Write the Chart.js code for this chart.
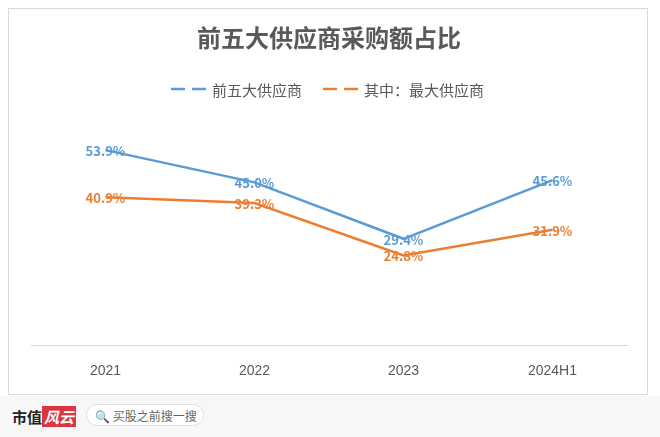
<!DOCTYPE html>
<html><head><meta charset="utf-8">
<script src="https://cdn.jsdelivr.net/npm/chart.js@4"></script>
<style>
body{margin:0;width:660px;height:437px;background:#fff;font-family:"Noto Sans CJK SC",sans-serif;position:relative;overflow:hidden}
#box{position:absolute;left:8px;top:8px;width:640px;height:387px;border:1px solid #d9d9d9;box-sizing:border-box}
#foot{position:absolute;left:0;top:396px;width:660px;height:41px;background:#f7f7f7}
#logo{position:absolute;left:12px;top:10px;font-size:15px;font-weight:bold;color:#222}
#logo span{background:#d9363e;color:#fff;padding:0 2px;font-style:italic}
#search{position:absolute;left:86px;top:8px;width:118px;height:22px;border-radius:11px;background:#fff;border:1px solid #e0e0e0;font-size:12px;color:#666;line-height:22px;padding-left:8px;box-sizing:border-box}
</style></head><body>
<div id="box"><canvas id="c" width="638" height="385"></canvas></div>
<div id="foot"><div id="logo">市值<span>风云</span></div><div id="search">🔍 买股之前搜一搜</div></div>
<script>
var categories = ["2021", "2022", "2023", "2024H1"];
var top5 = [53.9, 45.0, 29.4, 45.6];
var largest = [40.9, 39.3, 24.8, 31.9];
var seriesNames = ["前五大供应商", "其中：最大供应商"];
var blue = '#5b9bd5', orange = '#ed7d31';

var labelPlugin = {
    id: 'vals',
    afterDatasetsDraw: function(chart) {
        var ctx = chart.ctx;
        ctx.save();
        ctx.font = 'bold 13px "Noto Sans CJK SC", sans-serif';
        ctx.textAlign = 'center';
        ctx.textBaseline = 'middle';
        chart.data.datasets.forEach(function(ds, i) {
            chart.getDatasetMeta(i).data.forEach(function(pt, j) {
                ctx.fillStyle = ds.borderColor;
                ctx.fillText(ds.data[j].toFixed(1) + '%', pt.x, pt.y + 1);
            });
        });
        // legend with dashed keys
        ctx.font = '15px "Noto Sans CJK SC", sans-serif';
        ctx.textAlign = 'left';
        ctx.lineWidth = 2.5;
        ctx.setLineDash([14, 7]);
        var xs = [162, 314];
        chart.data.datasets.forEach(function(ds, i) {
            ctx.strokeStyle = ds.borderColor;
            ctx.beginPath();
            ctx.moveTo(xs[i], 80);
            ctx.lineTo(xs[i] + 35, 80);
            ctx.stroke();
            ctx.fillStyle = '#595959';
            ctx.fillText(ds.label, xs[i] + 41, 81);
        });
        ctx.restore();
    }
};

new Chart(document.getElementById('c'), {
    type: 'line',
    data: {
        labels: categories,
        datasets: [
            {label: seriesNames[0], data: top5, borderColor: blue, backgroundColor: blue, borderWidth: 2.5, pointRadius: 0, tension: 0},
            {label: seriesNames[1], data: largest, borderColor: orange, backgroundColor: orange, borderWidth: 2.5, pointRadius: 0, tension: 0}
        ]
    },
    options: {
        responsive: false,
        animation: false,
        layout: {padding: {left: 22, right: 20, top: 0, bottom: 4}},
        plugins: {
            title: {display: true, text: '前五大供应商采购额占比', color: '#595959',
                font: {size: 24, weight: 'bold', family: '"Noto Sans CJK SC"'}, padding: {top: 14, bottom: 69}},
            legend: {display: false},
            tooltip: {enabled: false}
        },
        scales: {
            x: {offset: true, grid: {display: false}, border: {color: '#d9d9d9'},
                ticks: {color: '#595959', font: {size: 14}, padding: 10}},
            y: {display: false, min: 0, max: 62}
        }
    },
    plugins: [labelPlugin]
});
</script>
</body></html>
